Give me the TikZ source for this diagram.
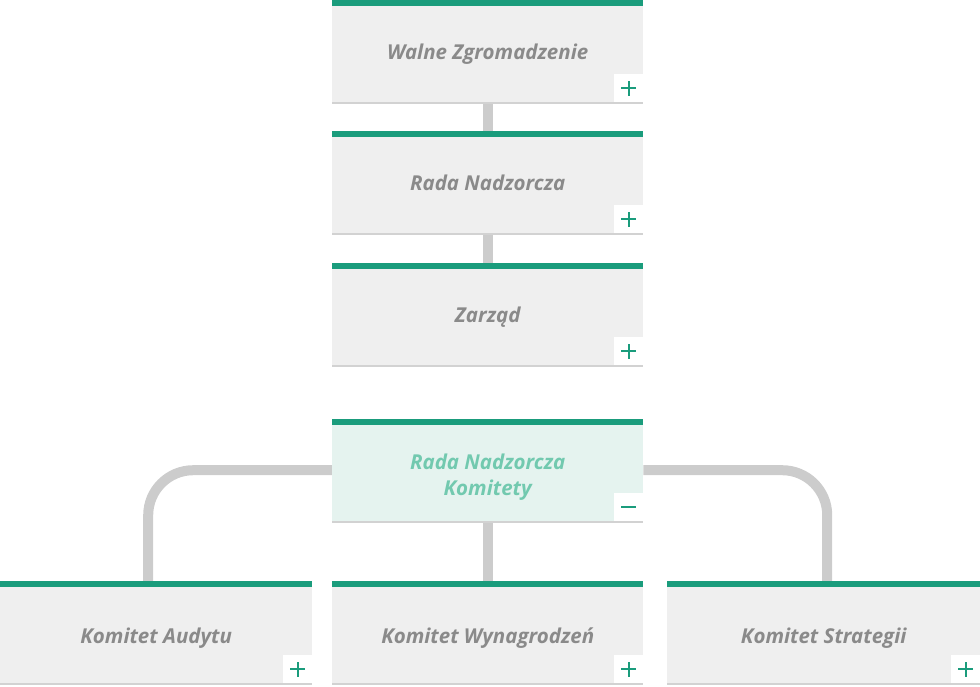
\documentclass[tikz,border=0pt]{standalone}
\usepackage{fontspec}
\setmainfont{Open Sans}
\usetikzlibrary{backgrounds,calc}
\definecolor{boxgray}{HTML}{EFEFEF}
\definecolor{mint}{HTML}{E5F3EF}
\definecolor{topgreen}{HTML}{1A9C7C}
\definecolor{txtgray}{HTML}{8A8A8A}
\definecolor{txtmint}{HTML}{72C9AF}
\definecolor{conngray}{HTML}{CCCCCC}
\definecolor{shadowgray}{HTML}{D2D2D2}
\tikzset{
  x=1pt, y=-1pt,
  box/.style={fill=boxgray, minimum width=311pt, minimum height=102pt, inner sep=0pt,
    anchor=north west, font=\fontsize{20.5}{26}\selectfont\bfseries\itshape, text=txtgray,
    align=center},
  sbox/.style={box, minimum width=312pt},
  mintbox/.style={box, fill=mint, text=txtmint},
  conn/.style={draw=conngray, line width=10pt},
  btn/.style={fill=white, minimum width=29pt, minimum height=28pt, inner sep=0pt,
    anchor=south east, text=topgreen, font=\fontsize{22}{22}\selectfont},
}
\newcommand{\topbar}[1]{%
  \fill[topgreen] (#1.north west) rectangle ([yshift=-6pt]#1.north east);
  \fill[shadowgray] (#1.south west) rectangle ([yshift=-2pt]#1.south east);}
\newcommand{\plusmark}[2]{%
  \node[btn] (#2) at ([yshift=0pt]#1.south east) {};
  \draw[topgreen, line width=2.4pt] ([xshift=-7.5pt]#2.center) -- ([xshift=7.5pt]#2.center)
     ([yshift=-7.5pt]#2.center) -- ([yshift=7.5pt]#2.center);}
\newcommand{\minusmark}[2]{%
  \node[btn] (#2) at (#1.south east) {};
  \draw[topgreen, line width=2.4pt] ([xshift=-7.5pt]#2.center) -- ([xshift=7.5pt]#2.center);}
\newcommand{\lbl}[1]{\raisebox{-8pt}[0pt][0pt]{#1}}
\newcommand{\lowlbl}[1]{\raisebox{-11pt}[0pt][0pt]{#1}}
\begin{document}
\begin{tikzpicture}
\useasboundingbox (0,0) rectangle (980,686);
\node[box] (wz) at (332,0) {\lbl{Walne Zgromadzenie}};
\node[box] (rn) at (332,131) {\lbl{Rada Nadzorcza}};
\node[box] (zr) at (332,263) {\lbl{Zarząd}};
\node[mintbox] (rk) at (332,419) {\raisebox{-12pt}[0pt][0pt]{\begin{tabular}{@{}c@{}}Rada Nadzorcza\\Komitety\end{tabular}}};
\node[sbox] (ka) at (0,581) {\lowlbl{Komitet Audytu}};
\node[box] (kw) at (332,581) {\lowlbl{Komitet Wynagrodzeń}};
\node[sbox, minimum width=313pt] (ks) at (667,581) {\lowlbl{Komitet Strategii}};
\foreach \n in {wz,rn,zr,rk,ka,kw,ks} {\topbar{\n}}
\plusmark{wz}{bwz}
\plusmark{rn}{brn}
\plusmark{zr}{bzr}
\minusmark{rk}{brk}
\plusmark{ka}{bka}
\plusmark{kw}{bkw}
\plusmark{ks}{bks}
\begin{scope}[on background layer]
  \draw[conn] (wz.south) -- (rn.north);
  \draw[conn] (rn.south) -- (zr.north);
  \draw[conn] (rk.south) -- (kw.north);
  \draw[conn, rounded corners=45pt] (rk.west) -| ([xshift=-8pt]ka.north);
  \draw[conn, rounded corners=45pt] (rk.east) -| ([xshift=3.5pt]ks.north);
\end{scope}
\end{tikzpicture}
\end{document}
